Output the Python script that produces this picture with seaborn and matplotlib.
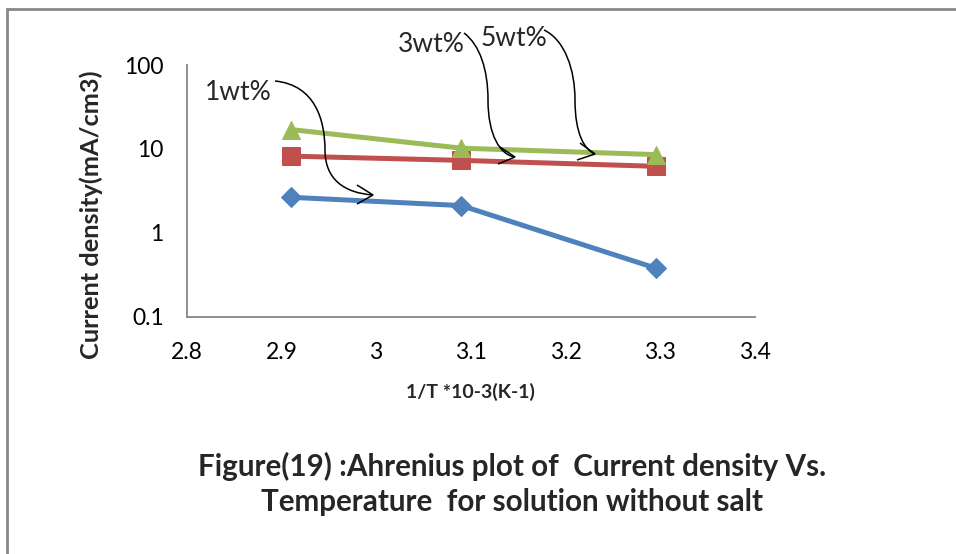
import numpy as np
import pandas as pd
import matplotlib
matplotlib.use("Agg")
import matplotlib.pyplot as plt
from matplotlib.path import Path
from matplotlib.patches import PathPatch
from matplotlib.transforms import Affine2D
import seaborn as sns

# Inverse temperature (x 10^-3 K^-1) and current density (mA/cm3)
inv_T = [2.91, 3.09, 3.295]
cd_1wt = [2.65, 2.11, 0.38]
cd_3wt = [8.2, 7.3, 6.2]
cd_5wt = [17.0, 10.2, 8.55]
series_names = ["1wt%", "3wt%", "5wt%"]

x_ticks = [2.8, 2.9, 3.0, 3.1, 3.2, 3.3, 3.4]
x_tick_labels = ["2.8", "2.9", "3", "3.1", "3.2", "3.3", "3.4"]
y_ticks = [0.1, 1, 10, 100]
y_tick_labels = ["0.1", "1", "10", "100"]

df = pd.DataFrame({
    "x": inv_T * 3,
    "y": cd_1wt + cd_3wt + cd_5wt,
    "series": [s for s in series_names for _ in inv_T],
})

sns.set_theme(style="white")
plt.rcParams["font.family"] = ["Lato", "DejaVu Sans"]

W, H = 956, 554
fig = plt.figure(figsize=(W / 100, H / 100), dpi=100)
ax = fig.add_axes([186.7 / W, 1 - 316.7 / H, (755 - 186.7) / W, (316.7 - 65) / H])

styles = {
    "1wt%": dict(color="#4F81BD", marker="D", markersize=10.5),
    "3wt%": dict(color="#C0504D", marker="s", markersize=13),
    "5wt%": dict(color="#9BBB59", marker="^", markersize=13.5),
}
for name in series_names:
    sub = df[df["series"] == name]
    st = styles[name]
    sns.lineplot(data=sub, x="x", y="y", ax=ax, color=st["color"], linewidth=3.6,
                 marker=st["marker"], markersize=st["markersize"],
                 markeredgecolor=st["color"], markerfacecolor=st["color"],
                 legend=False, zorder=3)

ax.set_yscale("log")
ax.set_xlim(2.8, 3.4)
ax.set_ylim(0.1, 100)
ax.set_xticks(x_ticks)
ax.set_xticklabels(x_tick_labels)
ax.set_yticks(y_ticks)
ax.set_yticklabels(y_tick_labels)
ax.yaxis.set_minor_locator(matplotlib.ticker.NullLocator())

axis_gray = "#868686"
for side in ["top", "right"]:
    ax.spines[side].set_visible(False)
for side in ["left", "bottom"]:
    ax.spines[side].set_color(axis_gray)
    ax.spines[side].set_linewidth(1.3)
ax.tick_params(axis="both", which="major", direction="out", length=5.5, width=1.3,
               color=axis_gray, labelsize=16.5, labelcolor="black")
ax.tick_params(axis="x", pad=13)
ax.tick_params(axis="y", pad=11)
ax.set_facecolor("white")

ax.set_xlabel("1/T *10-3(K-1)", fontsize=14, fontweight="bold", labelpad=14)
ax.set_ylabel("")

# Pixel coordinates measured from the top-left corner of the canvas
px = Affine2D().scale(1 / W, -1 / H).translate(0, 1) + fig.transFigure

fig.text(91, 215, "Current density(mA/cm3)", transform=px, rotation=90,
         ha="center", va="center", fontsize=18.3, fontweight="bold")

fig.text(512, 466, "Figure(19) :Ahrenius plot of  Current density Vs.", transform=px,
         ha="center", va="center", fontsize=21.3, fontweight="bold")
fig.text(512, 502, "Temperature  for solution without salt", transform=px,
         ha="center", va="center", fontsize=21.3, fontweight="bold")

fig.text(238, 92, "1wt%", transform=px, ha="center", va="center", fontsize=19)
fig.text(431, 44, "3wt%", transform=px, ha="center", va="center", fontsize=19)
fig.text(514, 38, "5wt%", transform=px, ha="center", va="center", fontsize=19)

# Curved callout arrows
curves = [
    [(275, 81), (315, 85), (325, 120), (325, 150), (325, 180), (345, 193), (373, 195)],
    [(464, 33), (480, 45), (488, 70), (488, 100), (488, 135), (500, 155), (515, 157)],
    [(544, 30), (565, 40), (575, 70), (575, 100), (575, 135), (585, 150), (595, 154)],
]
heads = [
    [(357, 185), (373, 195), (357, 204)],
    [(500, 147), (515, 157), (498, 164)],
    [(580, 143), (595, 154), (577, 160)],
]
for pts in curves:
    codes = [Path.MOVETO] + [Path.CURVE4] * 6
    fig.add_artist(PathPatch(Path(pts, codes), transform=px, fill=False,
                             edgecolor="black", linewidth=1.1, zorder=5))
for pts in heads:
    fig.add_artist(PathPatch(Path(pts), transform=px, fill=False,
                             edgecolor="black", linewidth=1.1, zorder=5))

# Outer frame (open at right and bottom)
frame = Path([(7, H + 5), (7, 9), (W + 5, 9)])
fig.add_artist(PathPatch(frame, transform=px, fill=False, edgecolor="#888888",
                         linewidth=2, zorder=6))

fig.savefig("out.png", dpi=100, facecolor="white")
